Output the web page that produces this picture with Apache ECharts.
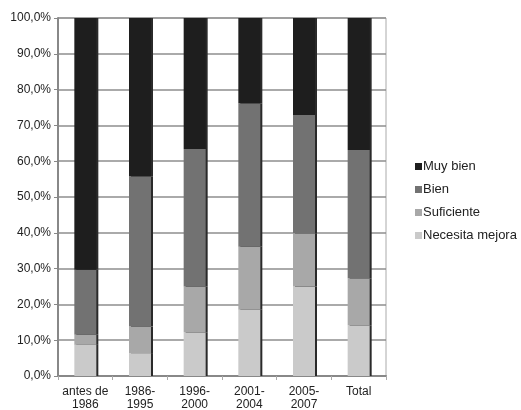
<!DOCTYPE html>
<html><head><meta charset="utf-8">
<script src="https://cdn.jsdelivr.net/npm/echarts@6/dist/echarts.min.js"></script>
<style>html,body{margin:0;padding:0;background:#fff}#c{width:521px;height:410px}</style>
</head><body><div id="c"></div>
<script>
const categories = ["antes de\n1986", "1986-\n1995", "1996-\n2000", "2001-\n2004", "2005-\n2007", "Total"];
const necesitaMejora = [8.7, 6.4, 12.2, 18.5, 25.0, 14.2];
const suficiente = [2.8, 7.4, 12.8, 17.6, 14.9, 13.1];
const bien = [18.2, 42.0, 38.4, 40.1, 33.0, 35.8];
const muyBien = [70.3, 44.2, 36.6, 23.8, 27.1, 36.9];
const legendNames = ["Muy bien", "Bien", "Suficiente", "Necesita mejora"];

const FONT = '"Liberation Sans", Arial, sans-serif';
const chart = echarts.init(document.getElementById('c'));
function s(name, data, color) {
  return {
    name, type: 'bar', stack: 'a', data, barWidth: 22,
    itemStyle: { color, shadowColor: '#2a2a2a', shadowOffsetX: 2, shadowBlur: 0 }
  };
}
chart.setOption({
  animation: false,
  textStyle: { fontFamily: FONT },
  grid: { left: 58, right: 135, top: 18, bottom: 34, show: true, borderColor: '#aaa', borderWidth: 1, outerBoundsMode: 'none' },
  legend: {
    orient: 'vertical', left: 410, top: 155, itemWidth: 7, itemHeight: 7, itemGap: 10,
    icon: 'rect', data: legendNames,
    textStyle: { fontFamily: FONT, fontSize: 13, color: '#222', padding: [0, 0, 0, -4] }
  },
  xAxis: {
    type: 'category', data: categories,
    axisLine: { lineStyle: { color: '#888', width: 2 } },
    axisTick: { show: true, length: 4, lineStyle: { color: '#aaa' } },
    axisLabel: { interval: 0, fontFamily: FONT, fontSize: 12, color: '#222', lineHeight: 13, margin: 9 }
  },
  yAxis: {
    type: 'value', min: 0, max: 100, interval: 10,
    axisLine: { show: true, lineStyle: { color: '#888', width: 2 } },
    axisTick: { show: true, length: 4, lineStyle: { color: '#888' } },
    splitLine: { lineStyle: { color: '#8e8e8e', width: 1.5 } },
    axisLabel: {
      fontFamily: FONT, fontSize: 12, color: '#222', margin: 7,
      formatter: v => v.toFixed(1).replace('.', ',') + '%'
    }
  },
  series: [
    s('Necesita mejora', necesitaMejora, '#cacaca'),
    s('Suficiente', suficiente, '#a8a8a8'),
    s('Bien', bien, '#727272'),
    s('Muy bien', muyBien, '#1e1e1e')
  ]
});
</script></body></html>
